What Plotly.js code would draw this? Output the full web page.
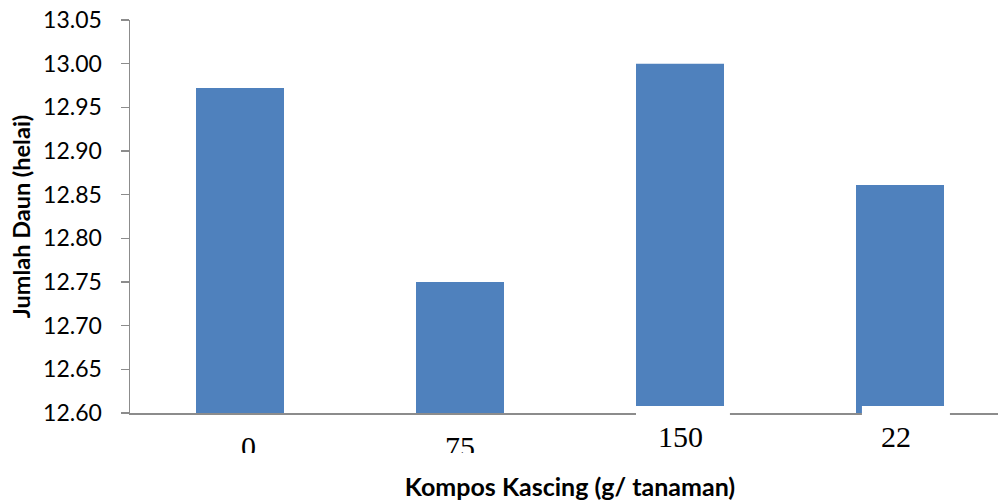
<!DOCTYPE html>
<html>
<head>
<meta charset="utf-8">
<script src="https://cdn.plot.ly/plotly-3.0.1.min.js"></script>
<style>
html, body { margin: 0; padding: 0; overflow: hidden; background: #fff; width: 998px; height: 504px; }
#chart { width: 1010px; height: 504px; }
</style>
</head>
<body>
<div id="chart"></div>
<script>
// Data
const categories = ["0", "75", "150", "225"];
const tickLabels = ["0", "75", "150", "22"];
const jumlahDaun = [12.972, 12.75, 13.00, 12.861];

const yTitle = "Jumlah Daun (helai)";
const xTitle = "Kompos Kascing (g/ tanaman)";

// styling for labels (tick labels drawn as annotations to mimic the picture;
// the first two are cut off at the bottom in the reference)
const labelTop = [-0.038, -0.038, -0.0127, -0.0127];
const labelShift = [8, 0, 0, -4];
const labelBoxHeight = [23, 23, null, null];

const trace = {
  type: "bar",
  x: categories,
  y: jumlahDaun,
  width: 0.4,
  marker: { color: "#4F81BD", line: { width: 0 } },
  hoverinfo: "skip"
};

const annotations = categories.map((c, i) => {
  const a = {
    x: i, xref: "x",
    y: labelTop[i], yref: "paper",
    yanchor: "top", xanchor: "center",
    xshift: labelShift[i],
    text: tickLabels[i],
    showarrow: false,
    font: { family: "Liberation Serif, Times New Roman, serif", size: 30, color: "#000" }
  };
  if (labelBoxHeight[i]) { a.height = labelBoxHeight[i]; a.valign = "top"; }
  return a;
});

const shapes = [
  // white patches seen in the reference at the bottom of the last two bars
  { type: "rect", layer: "above", xref: "x", yref: "paper", x0: 1.8, x1: 2.227, y0: -0.008, y1: 0.0178, fillcolor: "#fff", line: { width: 0 } },
  { type: "rect", layer: "above", xref: "x", yref: "paper", x0: 2.827, x1: 3.227, y0: -0.008, y1: 0.0178, fillcolor: "#fff", line: { width: 0 } }
];

const layout = {
  width: 1010,
  height: 504,
  margin: { l: 130, r: 0, t: 20, b: 91 },
  paper_bgcolor: "#fff",
  plot_bgcolor: "#fff",
  showlegend: false,
  xaxis: {
    type: "category",
    range: [-0.5, 3.5],
    showline: true,
    linecolor: "#8C8C8C",
    linewidth: 1.5,
    showgrid: false,
    zeroline: false,
    ticks: "",
    showticklabels: false,
    fixedrange: true,
    title: {
      text: xTitle,
      font: { family: "Lato, Open Sans, sans-serif", size: 25, color: "#000", weight: "bold" },
      standoff: 65
    }
  },
  yaxis: {
    range: [12.60, 13.05],
    dtick: 0.05,
    tick0: 12.60,
    tickformat: ".2f",
    showline: true,
    linecolor: "#8C8C8C",
    linewidth: 1.5,
    ticks: "outside",
    ticklen: 8,
    tickwidth: 1.5,
    tickcolor: "#8C8C8C",
    showgrid: false,
    zeroline: false,
    ticklabelstandoff: 14,
    tickfont: { family: "Lato, Open Sans, sans-serif", size: 23, color: "#000" },
    fixedrange: true,
    title: {
      text: yTitle,
      font: { family: "Lato, Open Sans, sans-serif", size: 23.5, color: "#000", weight: "bold" },
      standoff: 6
    }
  },
  annotations: annotations,
  shapes: shapes
};

Plotly.newPlot("chart", [trace], layout, { displayModeBar: false, staticPlot: true });
</script>
</body>
</html>
